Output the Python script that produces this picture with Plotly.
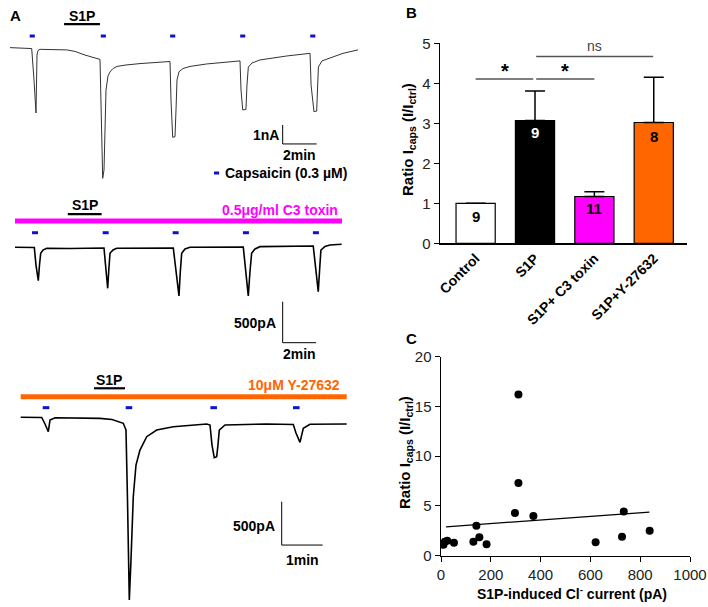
import plotly.graph_objects as go

FONT = "Liberation Sans, Arial, sans-serif"
BLUE = "#0a14d0"
MAGENTA = "#ff00ff"
ORANGE = "#ff6600"

# ---------------- Panel A data (time in min, current) ----------------
# Trace 1 (current in nA)
t1 = [0, 1.235, 1.276, 1.412, 1.529, 1.588, 1.647, 1.765, 3.335, 3.82, 4.41, 5.294,
      5.353, 5.453, 5.53, 5.588, 5.647, 5.765, 5.882, 6.059, 6.294, 6.765, 7.647, 9.412,
      9.47, 9.571, 9.706, 9.765, 9.824, 9.941, 10.176, 10.588, 11.57, 13.53,
      13.59, 13.69, 13.88, 13.94, 14.02, 14.235, 14.7, 16.28, 17.65,
      17.71, 17.88, 18.04, 18.09, 18.14, 18.35, 18.63, 19.59, 20.47]
i1 = [0.02, -0.02, -0.03, -1.68, -3.42, -0.37, -0.13, -0.07, -0.1, -0.18, -0.37, -0.6,
      -3.26, -6.86, -6.42, -4.32, -2.21, -1.47, -1.26, -1.08, -0.97, -0.9, -0.82, -0.71,
      -2.74, -4.7, -4.67, -3.26, -1.68, -1.25, -1.08, -0.97, -0.84, -0.68,
      -2.21, -3.26, -3.23, -1.95, -1.0, -0.79, -0.63, -0.42, -0.28,
      -1.95, -3.35, -3.32, -1.95, -1.0, -0.68, -0.59, -0.28, -0.1]
caps1 = [1.31, 5.49, 9.57, 13.69, 17.81]
s1p1 = [3.18, 5.29]

# Trace 2 (current in pA), C3 toxin
t2 = [0, 1.156, 1.257, 1.395, 1.467, 1.539, 1.677, 1.898, 3.293, 5.329, 5.449, 5.551,
      5.617, 5.689, 5.868, 6.09, 9.479, 9.641, 9.82, 9.898, 9.982, 10.18, 10.48, 13.67,
      13.83, 13.97, 14.07, 14.17, 14.37, 14.67, 17.86, 18.02, 18.16, 18.24, 18.32,
      18.56, 18.86, 19.56]
i2 = [-4, -6, -220, -411, -220, -77, -37, -16, -18, -12, -280, -504,
      -280, -77, -37, -16, -12, -305, -598, -305, -77, -24, -4, 0,
      -305, -598, -305, -77, -24, 4, 12, -280, -545, -280, -37,
      6, 24, 33]
caps2 = [1.2, 5.43, 9.62, 13.83, 18.02]
s1p2 = [3.16, 5.19]
c3_2 = [0, 19.58]

# Trace 3 (current in pA), Y-27632
t3 = [0, 0.512, 0.593, 0.673, 0.715, 0.837, 1.934, 2.227, 2.502, 2.568, 2.605, 2.649,
      2.69, 2.746, 2.812, 2.909, 3.073, 3.317, 3.722, 4.537, 4.617, 4.666, 4.722, 4.78,
      4.812, 4.844, 4.983, 6.0, 6.649, 6.715, 6.812, 6.893, 7.056, 7.951]
i3 = [0, -2, -77, -166, -31, -5, -12, -25, -69, -147, -955, -2110,
      -1648, -917, -551, -378, -224, -147, -109, -77, -89, -320, -466, -455,
      -320, -147, -89, -77, -83, -181, -289, -127, -81, -77]
caps3 = [0.617, 2.641, 4.707, 6.722]
s1p3 = [1.788, 2.544]
y_3 = [0, 7.951]

# ---------------- Panel B data ----------------
groups = ["Control", "S1P", "S1P+ C3 toxin", "S1P+Y-27632"]
ratio = [1.0, 3.07, 1.17, 3.02]
sem = [float("nan"), 0.74, 0.12, 1.13]
n_cells = ["9", "9", "11", "8"]
bar_colors = ["white", "black", MAGENTA, ORANGE]
n_colors = ["black", "white", "black", "black"]

# ---------------- Panel C data ----------------
cl_current = [10, 15, 25, 52, 130, 142, 154, 183, 297, 311, 311, 371, 621, 727, 734, 838]
ratio_c = [1.1, 1.4, 1.5, 1.3, 1.4, 3.0, 1.85, 1.15, 4.3, 16.2, 7.3, 4.0, 1.35, 1.9, 4.45, 2.5]
fit_x = [20, 837]
fit_y = [2.9, 4.38]

W, H = 708, 607


def px_dom_x(a, b):
    return [a / W, b / W]


def px_dom_y(top, bottom):
    return [1 - bottom / H, 1 - top / H]


fig = go.Figure()


def seg_trace(xs_pairs, yval, color, width, xa, ya):
    xs, ys = [], []
    for a, b in xs_pairs:
        xs += [a, b, None]
        ys += [yval, yval, None]
    return go.Scatter(x=xs, y=ys, mode="lines", line=dict(color=color, width=width),
                      xaxis=xa, yaxis=ya, hoverinfo="skip", showlegend=False)


# ---- Trace 1 ----
fig.add_trace(go.Scatter(x=t1, y=i1, mode="lines", line=dict(color="#333", width=1),
                         xaxis="x", yaxis="y", showlegend=False))
fig.add_trace(seg_trace([(c - 0.15, c + 0.15) for c in caps1], 0.63, BLUE, 3, "x", "y"))
fig.add_trace(seg_trace([tuple(s1p1)], 1.26, "black", 2.2, "x", "y"))
# scale bar 1 nA / 2 min
fig.add_trace(go.Scatter(x=[16.04, 16.04, 18.04], y=[-4.05, -5.05, -5.05], mode="lines",
                         line=dict(color="black", width=1), xaxis="x", yaxis="y",
                         showlegend=False))
# capsaicin legend mark
fig.add_trace(seg_trace([(12.0, 12.3)], -6.58, BLUE, 3, "x", "y"))

# ---- Trace 2 ----
fig.add_trace(go.Scatter(x=t2, y=i2, mode="lines", line=dict(color="black", width=1.6),
                         xaxis="x2", yaxis="y2", showlegend=False))
fig.add_trace(seg_trace([tuple(c3_2)], 317, MAGENTA, 5, "x2", "y2"))
fig.add_trace(seg_trace([(c - 0.18, c + 0.18) for c in caps2], 174, BLUE, 3, "x2", "y2"))
fig.add_trace(seg_trace([tuple(s1p2)], 402, "black", 2.2, "x2", "y2"))
fig.add_trace(go.Scatter(x=[16.03, 16.03, 18.03], y=[-667, -1167, -1167], mode="lines",
                         line=dict(color="black", width=1), xaxis="x2", yaxis="y2",
                         showlegend=False))

# ---- Trace 3 ----
fig.add_trace(go.Scatter(x=t3, y=i3, mode="lines", line=dict(color="black", width=1.6),
                         xaxis="x3", yaxis="y3", showlegend=False))
fig.add_trace(seg_trace([tuple(y_3)], 238, ORANGE, 5, "x3", "y3"))
fig.add_trace(seg_trace([(c - 0.08, c + 0.08) for c in caps3], 111, BLUE, 3, "x3", "y3"))
fig.add_trace(seg_trace([tuple(s1p3)], 335, "black", 2.2, "x3", "y3"))
fig.add_trace(go.Scatter(x=[6.366, 6.366, 7.366], y=[-975, -1475, -1475], mode="lines",
                         line=dict(color="black", width=1), xaxis="x3", yaxis="y3",
                         showlegend=False))

# ---- Panel B ----
fig.add_trace(go.Bar(x=list(range(4)), y=ratio, width=0.66,
                     marker=dict(color=bar_colors, line=dict(color="black", width=1.2)),
                     error_y=dict(type="data", symmetric=False, array=sem,
                                  arrayminus=[0, 0, 0, 0], color="black", thickness=1.5,
                                  width=10),
                     xaxis="x4", yaxis="y4", showlegend=False))
fig.add_trace(go.Scatter(x=[0, 0.97, None, 1.02, 2.0, None, 1.02, 2.99],
                         y=[4.11, 4.11, None, 4.11, 4.11, None, 4.67, 4.67], mode="lines",
                         line=dict(color="#555", width=1.5), xaxis="x4", yaxis="y4",
                         showlegend=False))

# ---- Panel C ----
fig.add_trace(go.Scatter(x=cl_current, y=ratio_c, mode="markers",
                         marker=dict(color="black", size=8), xaxis="x5", yaxis="y5",
                         showlegend=False))
fig.add_trace(go.Scatter(x=fit_x, y=fit_y, mode="lines", line=dict(color="black", width=1.3),
                         xaxis="x5", yaxis="y5", showlegend=False))

hidden = dict(visible=False, showgrid=False, zeroline=False, fixedrange=True,
              automargin=False)

axis_font = dict(family=FONT, size=15, color="#222")

fig.update_layout(
    width=W, height=H, margin=dict(l=0, r=0, t=0, b=0, autoexpand=False),
    paper_bgcolor="white", plot_bgcolor="white", showlegend=False,
    xaxis=dict(hidden, domain=px_dom_x(0, 360), range=[-0.588, 20.588]),
    yaxis=dict(hidden, domain=px_dom_y(0, 195), range=[-(195 - 48) / 19, 48 / 19]),
    xaxis2=dict(hidden, domain=px_dom_x(0, 360), range=[-0.898, 20.66]),
    yaxis2=dict(hidden, domain=px_dom_y(195, 370), range=[-1500, 634]),
    xaxis3=dict(hidden, domain=px_dom_x(0, 360), range=[-0.505, 8.276]),
    yaxis3=dict(hidden, domain=px_dom_y(370, 607), range=[-2190, 546]),
    xaxis4=dict(domain=px_dom_x(440, 687), range=[-0.6, 3.56], showline=True,
                linecolor="black", linewidth=1.5, ticks="", tickmode="array",
                tickvals=list(range(4)), ticktext=groups, tickangle=-45,
                tickfont=dict(family=FONT, size=14, color="black", weight="bold"),
                showgrid=False, zeroline=False, anchor="y4", automargin=False),
    yaxis4=dict(domain=px_dom_y(43.3, 243.3), range=[0, 5], showline=True,
                linecolor="black", linewidth=1.5, ticks="outside", ticklen=5,
                tickcolor="black", dtick=1, tickfont=axis_font, showgrid=False,
                zeroline=False, anchor="x4", automargin=False),
    xaxis5=dict(domain=px_dom_x(441, 690), range=[0, 1000], showline=True,
                linecolor="black", linewidth=1.5, ticks="outside", ticklen=5,
                tickcolor="black", dtick=200, tickfont=axis_font, showgrid=False,
                zeroline=False, anchor="y5", automargin=False),
    yaxis5=dict(domain=px_dom_y(356.7, 555.7), range=[0, 20], showline=True,
                linecolor="black", linewidth=1.5, ticks="outside", ticklen=5,
                tickcolor="black", dtick=5, tickfont=axis_font, showgrid=False,
                zeroline=False, anchor="x5", automargin=False),
)

ann = []


def A(text, x, y, xref, yref, size=14, color="black", xanchor="center", yanchor="middle",
      angle=0, weight="bold"):
    ann.append(dict(text=text, x=x, y=y, xref=xref, yref=yref, showarrow=False,
                    xanchor=xanchor, yanchor=yanchor, textangle=angle,
                    font=dict(family=FONT, size=size, color=color, weight=weight)))


# Panel letters
A("A", 8 / W, 1 - 15 / H, "paper", "paper", size=15, xanchor="left")
A("B", 404 / W, 1 - 13 / H, "paper", "paper", size=15, xanchor="left")
A("C", 404 / W, 1 - 338 / H, "paper", "paper", size=15, xanchor="left")

# Trace 1 labels
A("S1P", 4.24, 1.7, "x", "y")
A("1nA", 15.94, -4.6, "x", "y", xanchor="right")
A("2min", 17.04, -5.65, "x", "y")
A("Capsaicin (0.3 µM)", 12.53, -6.58, "x", "y", xanchor="left")

# Trace 2 labels
A("S1P", 4.19, 510, "x2", "y2")
A("0.5μg/ml C3 toxin", 19.46, 451, "x2", "y2", color=MAGENTA, xanchor="right")
A("500pA", 15.75, -927, "x2", "y2", xanchor="right")
A("2min", 17.03, -1310, "x2", "y2")

# Trace 3 labels
A("S1P", 2.161, 425, "x3", "y3")
A("10μM Y-27632", 7.829, 373, "x3", "y3", color=ORANGE, xanchor="right")
A("500pA", 6.259, -1255, "x3", "y3", xanchor="right")
A("1min", 6.866, -1645, "x3", "y3")

# Panel B labels
for k in range(4):
    yv = [0.68, 2.78, 0.86, 2.68][k]
    A(n_cells[k], k, yv, "x4", "y4", size=15, color=n_colors[k])
A("*", 0.5, 4.3, "x4", "y4", size=20)
A("*", 1.5, 4.3, "x4", "y4", size=20)
A("ns", 2.01, 4.92, "x4", "y4", size=14, color="#444", weight="normal")
A("Ratio I<sub>caps</sub> (I/I<sub>ctrl</sub>)", 408 / W, 1 - 140 / H, "paper", "paper",
  size=15, angle=-90)

# Panel C labels
A("Ratio I<sub>caps</sub> (I/I<sub>ctrl</sub>)", 405 / W, 1 - 453 / H, "paper", "paper",
  size=15, angle=-90)
A("S1P-induced Cl<sup>-</sup> current (pA)", 571.7 / W, 1 - 593 / H, "paper", "paper",
  size=14)

fig.update_layout(annotations=ann)

fig.write_html("out.html",
               config={"displayModeBar": False, "staticPlot": True},
               post_script="document.body.style.margin='0px';"
                           "document.body.style.overflow='hidden';")
